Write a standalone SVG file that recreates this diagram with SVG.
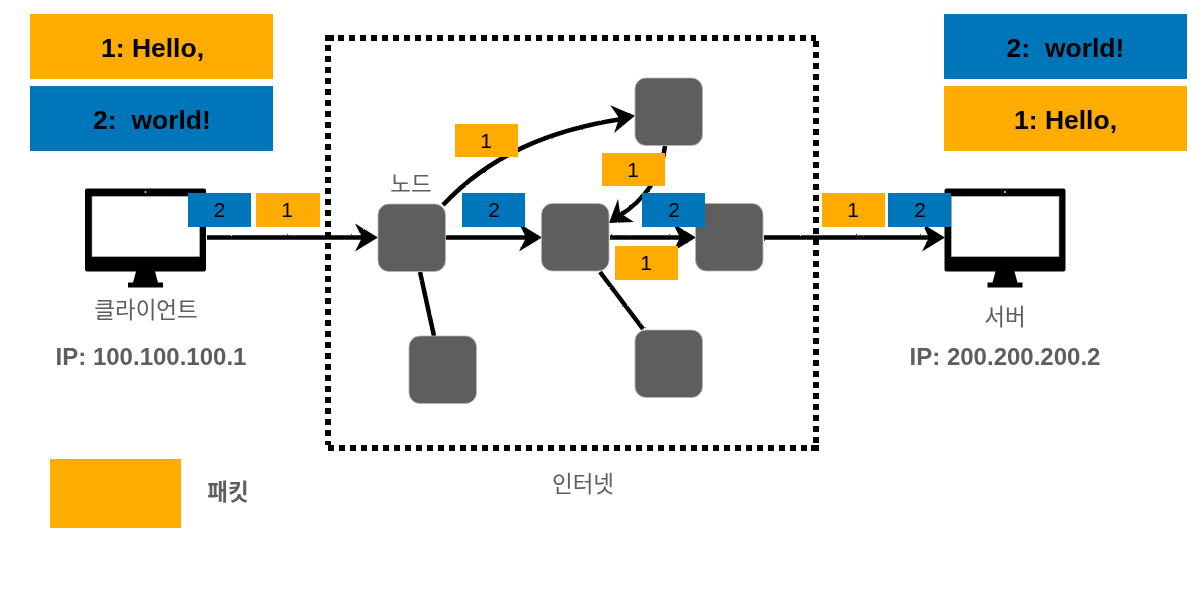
<svg xmlns="http://www.w3.org/2000/svg" width="1203" height="597" viewBox="0 0 1203 597">
<style>
text{font-family:"Liberation Sans","Noto Sans CJK KR",sans-serif;text-anchor:middle}
.o{fill:#ffab00}.b{fill:#0076ba}
.big{font-size:26.500px;font-weight:700;fill:#000}
.num{font-size:21px;fill:#000}
.lab{font-size:22.500px;fill:#5e5e5e}
.ip{font-size:24px;font-weight:700;fill:#5e5e5e}
.n{fill:#5e5e5e;stroke:#b5b5b5;stroke-width:.8}
.w{fill:none;stroke:#000;stroke-width:4.500;stroke-linecap:butt}
.h{fill:#000}
.d{fill:none;stroke:#000;stroke-width:6;stroke-dasharray:6 5}
</style>
<defs>
<filter id="rough" x="-5%" y="-20%" width="110%" height="140%" filterUnits="objectBoundingBox">
<feTurbulence type="fractalNoise" baseFrequency=".45" numOctaves="2" seed="4" result="t"/>
<feDisplacementMap in="SourceGraphic" in2="t" scale="1.800" xChannelSelector="R" yChannelSelector="G"/>
</filter>
<g id="mon">
<path d="M2 0H119a2 2 0 0 1 2 2V81a2 2 0 0 1-2 2H2a2 2 0 0 1-2-2V2a2 2 0 0 1 2-2ZM7 8V68H114.500V8ZM51 83H70L73 94H78V99H43V94H48Z" fill="#000" fill-rule="evenodd"/>
<rect x="7" y="8" width="107.500" height="60" fill="#fff" stroke="#999" stroke-width=".6"/>
<circle cx="60.500" cy="3.500" r="1" fill="#ddd"/>
</g>
<path id="ah" class="h" d="M1 0L-22-14-16-2-16 2-22 14Z"/>
</defs>

<g id="internet">
<rect x="325" y="35" width="9" height="6" fill="#000"/>
<path class="d" d="M338 38H816"/>
<path class="d" d="M328 45V445"/>
<path class="d" d="M328 448H813"/>
<path class="d" d="M816 41V445"/>
<rect x="811" y="445" width="8" height="6" fill="#000"/>
</g>

<g id="connectors" filter="url(#rough)">
<path class="w" d="M207 237.500H365"/>
<use href="#ah" x="377" y="237.500"/>
<path class="w" d="M446 237.500H530"/>
<use href="#ah" x="541" y="237.500"/>
<path class="w" d="M610 237.500H684"/>
<use href="#ah" x="695" y="237.500"/>
<path class="w" d="M764 237.500H932"/>
<use href="#ah" x="944" y="237.500"/>
<path class="w" d="M443 205C490 155 550 130 622 119"/>
<use href="#ah" transform="translate(634 116) rotate(-8)"/>
<path class="w" d="M665 146C662 175 645 200 619 216"/>
<path class="h" d="M609 223L618 199 620 213 634 222Z"/>
<path class="w" d="M420 272L434 336"/>
<path class="w" d="M600 272L643 329"/>
</g>

<g id="msg-hello-left"><rect class="o" x="30" y="14" width="243" height="65"/><text class="big" x="152.500" y="57">1: Hello,</text></g>
<g id="msg-world-left"><rect class="b" x="30" y="86" width="243" height="65"/><text class="big" x="152" y="129" xml:space="preserve">2:  world!</text></g>
<g id="msg-world-right"><rect class="b" x="944" y="14" width="243" height="65"/><text class="big" x="1065.500" y="57" xml:space="preserve">2:  world!</text></g>
<g id="msg-hello-right"><rect class="o" x="944" y="86" width="243" height="65"/><text class="big" x="1065.500" y="129">1: Hello,</text></g>

<g id="client"><use href="#mon" x="85" y="188.500"/><text class="lab" x="146" y="318">클라이언트</text><text class="ip" x="151" y="365">IP: 100.100.100.1</text></g>
<g id="server"><use href="#mon" x="944.500" y="188.500"/><text class="lab" x="1005" y="325">서버</text><text class="ip" x="1005" y="365">IP: 200.200.200.2</text></g>

<g id="node-a"><rect class="n" x="378" y="204" width="67.500" height="67.500" rx="11"/><text class="lab" x="411" y="192">노드</text></g>
<g id="node-b"><rect class="n" x="541.500" y="203.500" width="67.500" height="67.500" rx="11"/></g>
<g id="node-c"><rect class="n" x="695.500" y="203.500" width="67.500" height="67.500" rx="11"/></g>
<g id="node-d"><rect class="n" x="635" y="78" width="67.500" height="67.500" rx="11"/></g>
<g id="node-e"><rect class="n" x="635" y="330" width="67.500" height="67.500" rx="11"/></g>
<g id="node-f"><rect class="n" x="409" y="336" width="67.500" height="67.500" rx="11"/></g>

<g id="packets">
<rect class="b" x="188" y="193" width="63" height="34"/><text class="num" x="219.500" y="217">2</text>
<rect class="o" x="256" y="193" width="64" height="34"/><text class="num" x="287" y="217">1</text>
<rect class="o" x="455" y="124" width="63" height="33"/><text class="num" x="486" y="148">1</text>
<rect class="b" x="462" y="193" width="63" height="34"/><text class="num" x="494" y="217">2</text>
<rect class="o" x="602" y="153" width="63" height="33"/><text class="num" x="633" y="177">1</text>
<rect class="b" x="642" y="193" width="63" height="34"/><text class="num" x="674" y="217">2</text>
<rect class="o" x="615" y="246" width="63" height="34"/><text class="num" x="646" y="270">1</text>
<rect class="o" x="822" y="193" width="63" height="34"/><text class="num" x="853" y="217">1</text>
<rect class="b" x="888" y="193" width="63" height="34"/><text class="num" x="920" y="217">2</text>
</g>

<text class="lab" x="583" y="492">인터넷</text>
<g id="legend"><rect class="o" x="50" y="459" width="131" height="69"/><text class="ip" x="228" y="500" style="font-size:22.500px">패킷</text></g>
</svg>
